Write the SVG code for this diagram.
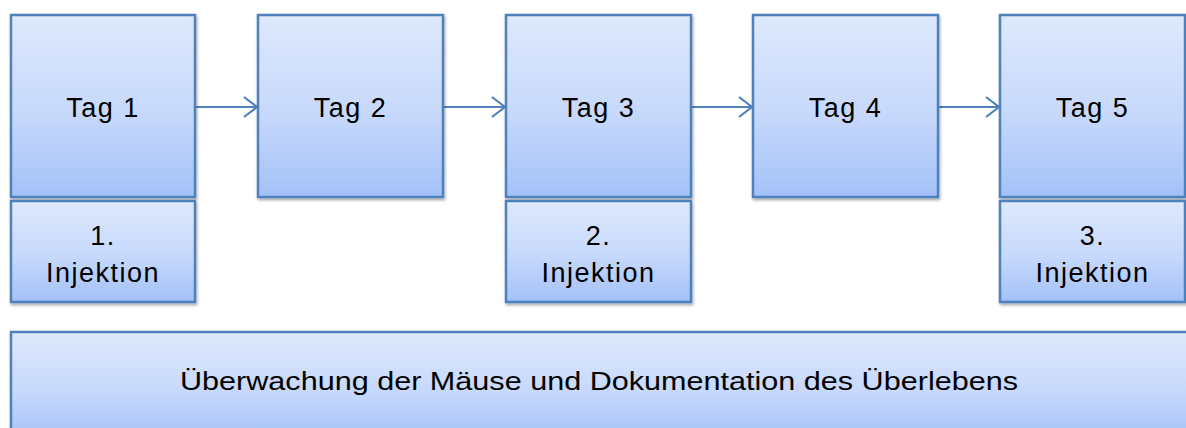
<svg xmlns="http://www.w3.org/2000/svg" width="1186" height="428" viewBox="0 0 1186 428">
<defs>
<linearGradient id="g" x1="0" y1="0" x2="0" y2="1">
<stop offset="0" stop-color="#dfe9fd"/>
<stop offset="0.55" stop-color="#c6d8fb"/>
<stop offset="1" stop-color="#a3c1f8"/>
</linearGradient>
<filter id="sh" x="-5%" y="-5%" width="115%" height="115%">
<feGaussianBlur in="SourceAlpha" stdDeviation="1.5"/>
<feOffset dx="1" dy="2" result="b"/>
<feComponentTransfer><feFuncA type="linear" slope="0.35"/></feComponentTransfer>
<feMerge><feMergeNode/><feMergeNode in="SourceGraphic"/></feMerge>
</filter>
<marker id="arr" markerWidth="20" markerHeight="24" refX="17" refY="12" orient="auto" markerUnits="userSpaceOnUse">
<path d="M4,2 L17,12 L4,22" fill="none" stroke="#4f81bd" stroke-width="2.2"/>
</marker>
</defs>
<style>
.box{fill:url(#g);stroke:#4f81bd;stroke-width:2.5;filter:url(#sh)}
.t{font-family:"Liberation Sans",Arial,sans-serif;font-size:27px;letter-spacing:1.5px;fill:#000;text-anchor:middle}
.c{stroke:#4f81bd;stroke-width:2.2;fill:none;marker-end:url(#arr)}
</style>
<rect width="1186" height="428" fill="#fff"/>
<g id="connectors">
<line class="c" x1="196" y1="107" x2="257" y2="107"/>
<line class="c" x1="444" y1="107" x2="505" y2="107"/>
<line class="c" x1="691" y1="107" x2="752" y2="107"/>
<line class="c" x1="939" y1="107" x2="999" y2="107"/>
</g>
<g id="tag1"><rect class="box" x="11" y="15" width="184" height="182"/><text class="t" x="103" y="117">Tag 1</text></g>
<g id="tag2"><rect class="box" x="258" y="15" width="185" height="182"/><text class="t" x="350.5" y="117">Tag 2</text></g>
<g id="tag3"><rect class="box" x="506" y="15" width="185" height="182"/><text class="t" x="598.5" y="117">Tag 3</text></g>
<g id="tag4"><rect class="box" x="753" y="15" width="185" height="182"/><text class="t" x="845.5" y="117">Tag 4</text></g>
<g id="tag5"><rect class="box" x="1000" y="15" width="185" height="182"/><text class="t" x="1092.5" y="117">Tag 5</text></g>
<g id="inj1"><rect class="box" x="11" y="201" width="184" height="101"/><text class="t" x="103" y="245">1.</text><text class="t" x="103" y="282">Injektion</text></g>
<g id="inj2"><rect class="box" x="506" y="201" width="185" height="101"/><text class="t" x="598.5" y="245">2.</text><text class="t" x="598.5" y="282">Injektion</text></g>
<g id="inj3"><rect class="box" x="1000" y="201" width="185" height="101"/><text class="t" x="1092.5" y="245">3.</text><text class="t" x="1092.5" y="282">Injektion</text></g>
<g id="monitor"><rect class="box" x="11" y="332" width="1190" height="110"/><text class="t" x="599" y="390" style="font-size:25px;letter-spacing:0" textLength="838" lengthAdjust="spacingAndGlyphs">Überwachung der Mäuse und Dokumentation des Überlebens</text></g>
</svg>
